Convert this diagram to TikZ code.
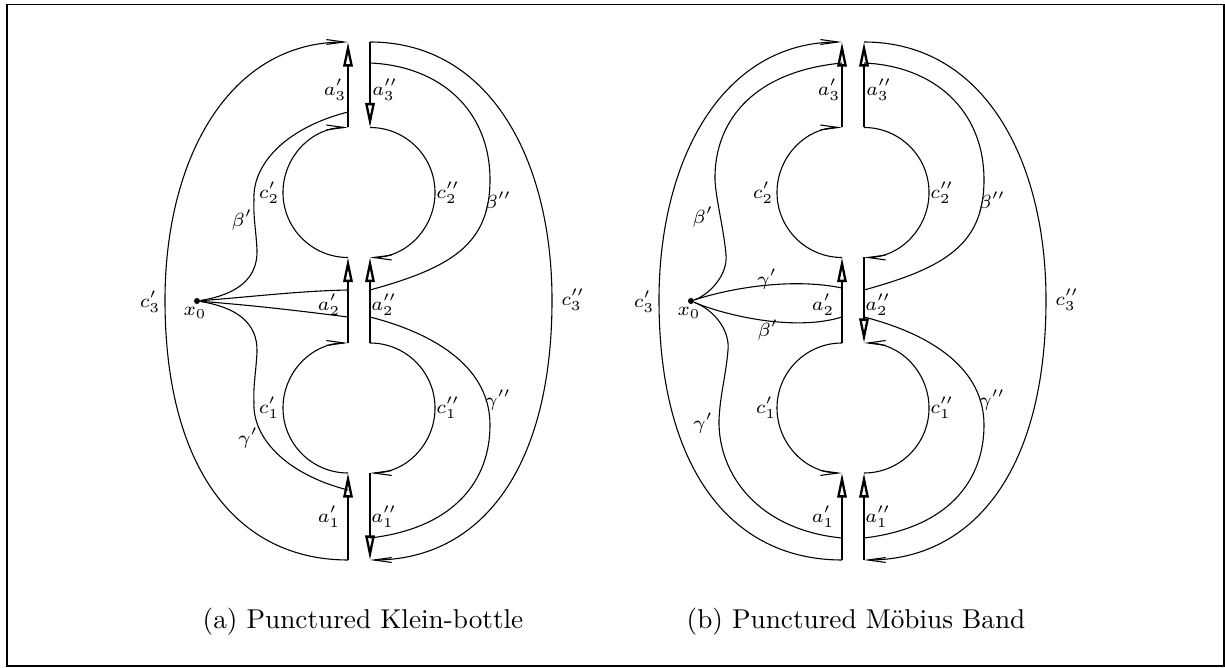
\documentclass[tikz,border=0pt]{standalone}
\usepackage{amsmath,amssymb}
\usepackage{tikz}
\usetikzlibrary{arrows.meta}

\tikzset{
  cutline/.style={line width=1pt},
  cutup/.style={cutline,-{Triangle[open,length=9pt,width=3.4pt,line width=0.85pt]}},
  curve/.style={line width=0.4pt},
  curveto/.style={curve,-{Straight Barb[length=6.5pt,width=1.8pt]}},
  lab/.style={font=\scriptsize,inner sep=0pt},
  basept/.style={circle,fill=black,inner sep=0pt,minimum size=2.2pt}
}

\begin{document}
\begin{tikzpicture}[x=0.367pt,y=0.367pt]
\useasboundingbox (0,0) rectangle (1225,-668);
\draw[line width=0.6pt] (7,-4.5) rectangle (1224,-666);

% what both surfaces share: outer boundary, the two holes, beta'' and gamma''
\foreach \dx/\p in {0/a,494/b}{
  \begin{scope}[shift={(\dx,0)}]
    \foreach \i/\y in {0/42,1/127.5,2/257.5,3/343,4/473,5/560}{
      \coordinate (\p-L\i) at (348,-\y);
      \coordinate (\p-R\i) at (370,-\y);
    }
    \coordinate (\p-Rb) at (370,-63);
    \coordinate (\p-Rc) at (370,-290);
    \coordinate (\p-Rd) at (370,-317);
    \coordinate (\p-Re) at (370,-538);
    \node[basept] (\p-x0) at (197,-301) {};

    \draw[curveto] (\p-L5) .. controls (238,-560) and (165,-470) .. (165,-300)
      .. controls (165,-160) and (228,-42) .. (\p-L0);
    \draw[curveto] (\p-R0) .. controls (490,-42) and (552,-160) .. (552,-300)
      .. controls (552,-470) and (480,-560) .. (\p-R5);

    \draw[curveto] (\p-L2) arc[start angle=270,end angle=90,radius=23.86pt];
    \draw[curveto] (\p-R1) arc[start angle=90,end angle=-90,radius=23.86pt];

    \draw[curve] (\p-Rb) .. controls (440,-66) and (490,-110) .. (490,-180)
      .. controls (490,-245) and (450,-268) .. (\p-Rc);
    \draw[curve] (\p-Rd) .. controls (440,-335) and (490,-370) .. (490,-425)
      .. controls (490,-480) and (455,-528) .. (\p-Re);

    \foreach \x/\y/\t/\n in {335/90/a'_3/la3, 385/90/a''_3/ra3, 269/193/c'_2/lc2,
        150/302/c'_3/lc3, 195/313/x_0/lx0, 329/305/a'_2/la2, 384/305/a''_2/ra2,
        329/517/a'_1/la1, 384/517/a''_1/ra1, 448/193/c''_2/rc2, 498/202/\beta''/rbeta,
        573/300/c''_3/rc3, 448/408/c''_1/rc1, 498/400/\gamma''/rgamma}
      \node[lab] (\p-\n) at (\x,-\y) {$\t$};
  \end{scope}
}

% (a) Klein-bottle
\coordinate (a-Lb) at (348,-112);
\coordinate (a-Lc) at (348,-290);
\coordinate (a-Ld) at (348,-317);
\coordinate (a-Le) at (348,-490);
\draw[curveto] (a-L4) arc[start angle=270,end angle=90,radius=23.86pt];
\draw[curveto] (a-R3) arc[start angle=90,end angle=-90,radius=23.86pt];
\draw[curve] (a-x0) .. controls (235,-295) and (258,-280) .. (257,-250)
  .. controls (256,-230) and (253,-215) .. (254,-200)
  .. controls (252,-165) and (285,-128) .. (a-Lb);
\draw[curve] (a-x0) .. controls (235,-307) and (258,-322) .. (257,-352)
  .. controls (256,-372) and (253,-387) .. (254,-402)
  .. controls (252,-437) and (285,-474) .. (a-Le);
\draw[curve] (a-x0) .. controls (260,-296) and (300,-291) .. (a-Lc);
\draw[curve] (a-x0) .. controls (260,-306) and (300,-311) .. (a-Ld);
\node[lab] (a-lc1) at (269,-408) {$c'_1$};
\node[lab] (a-beta) at (242,-220) {$\beta'$};
\node[lab] (a-gamma) at (248,-438) {$\gamma'$};

% (b) Moebius band
\begin{scope}[shift={(494,0)}]
  \coordinate (b-Lb) at (348,-63);
  \coordinate (b-Lc) at (348,-288);
  \coordinate (b-Ld) at (348,-317);
  \coordinate (b-Le) at (348,-538);
  \draw[curveto] (b-L3) arc[start angle=90,end angle=270,radius=23.86pt];
  \draw[curveto] (b-R4) arc[start angle=-90,end angle=90,radius=23.86pt];
  \draw[curve] (b-x0) .. controls (215,-295) and (234,-275) .. (232,-255)
    .. controls (230,-230) and (222,-200) .. (221,-180)
    .. controls (220,-125) and (255,-72) .. (b-Lb);
  \draw[curve] (b-x0) .. controls (220,-310) and (236,-330) .. (234,-350)
    .. controls (232,-375) and (226,-395) .. (225,-420)
    .. controls (224,-475) and (265,-530) .. (b-Le);
  \draw[curve] (b-x0) .. controls (240,-287) and (300,-278) .. (b-Lc);
  \draw[curve] (b-x0) .. controls (230,-315) and (300,-332) .. (b-Ld);
  \node[lab] (b-lc1) at (272,-408) {$c'_1$};
  \node[lab] (b-beta) at (209,-217) {$\beta'$};
  \node[lab] (b-gammas) at (273,-279) {$\gamma'$};
  \node[lab] (b-betas) at (274,-330) {$\beta'$};
  \node[lab] (b-gamma) at (209,-423) {$\gamma'$};
\end{scope}

% the cut, drawn last
\foreach \p in {a,b}{
  \draw[cutup] (\p-L1) -- (\p-L0);
  \draw[cutup] (\p-L3) -- (\p-L2);
  \draw[cutup] (\p-L5) -- (\p-L4);
}
\draw[cutup] (a-R0) -- (a-R1);
\draw[cutup] (a-R3) -- (a-R2);
\draw[cutup] (a-R4) -- (a-R5);
\draw[cutup] (b-R1) -- (b-R0);
\draw[cutup] (b-R2) -- (b-R3);
\draw[cutup] (b-R5) -- (b-R4);

\node[anchor=base] (capa) at (363,-628) {(a) Punctured Klein-bottle};
\node[anchor=base] (capb) at (856,-628) {(b) Punctured M\"{o}bius Band};
\end{tikzpicture}
\end{document}
